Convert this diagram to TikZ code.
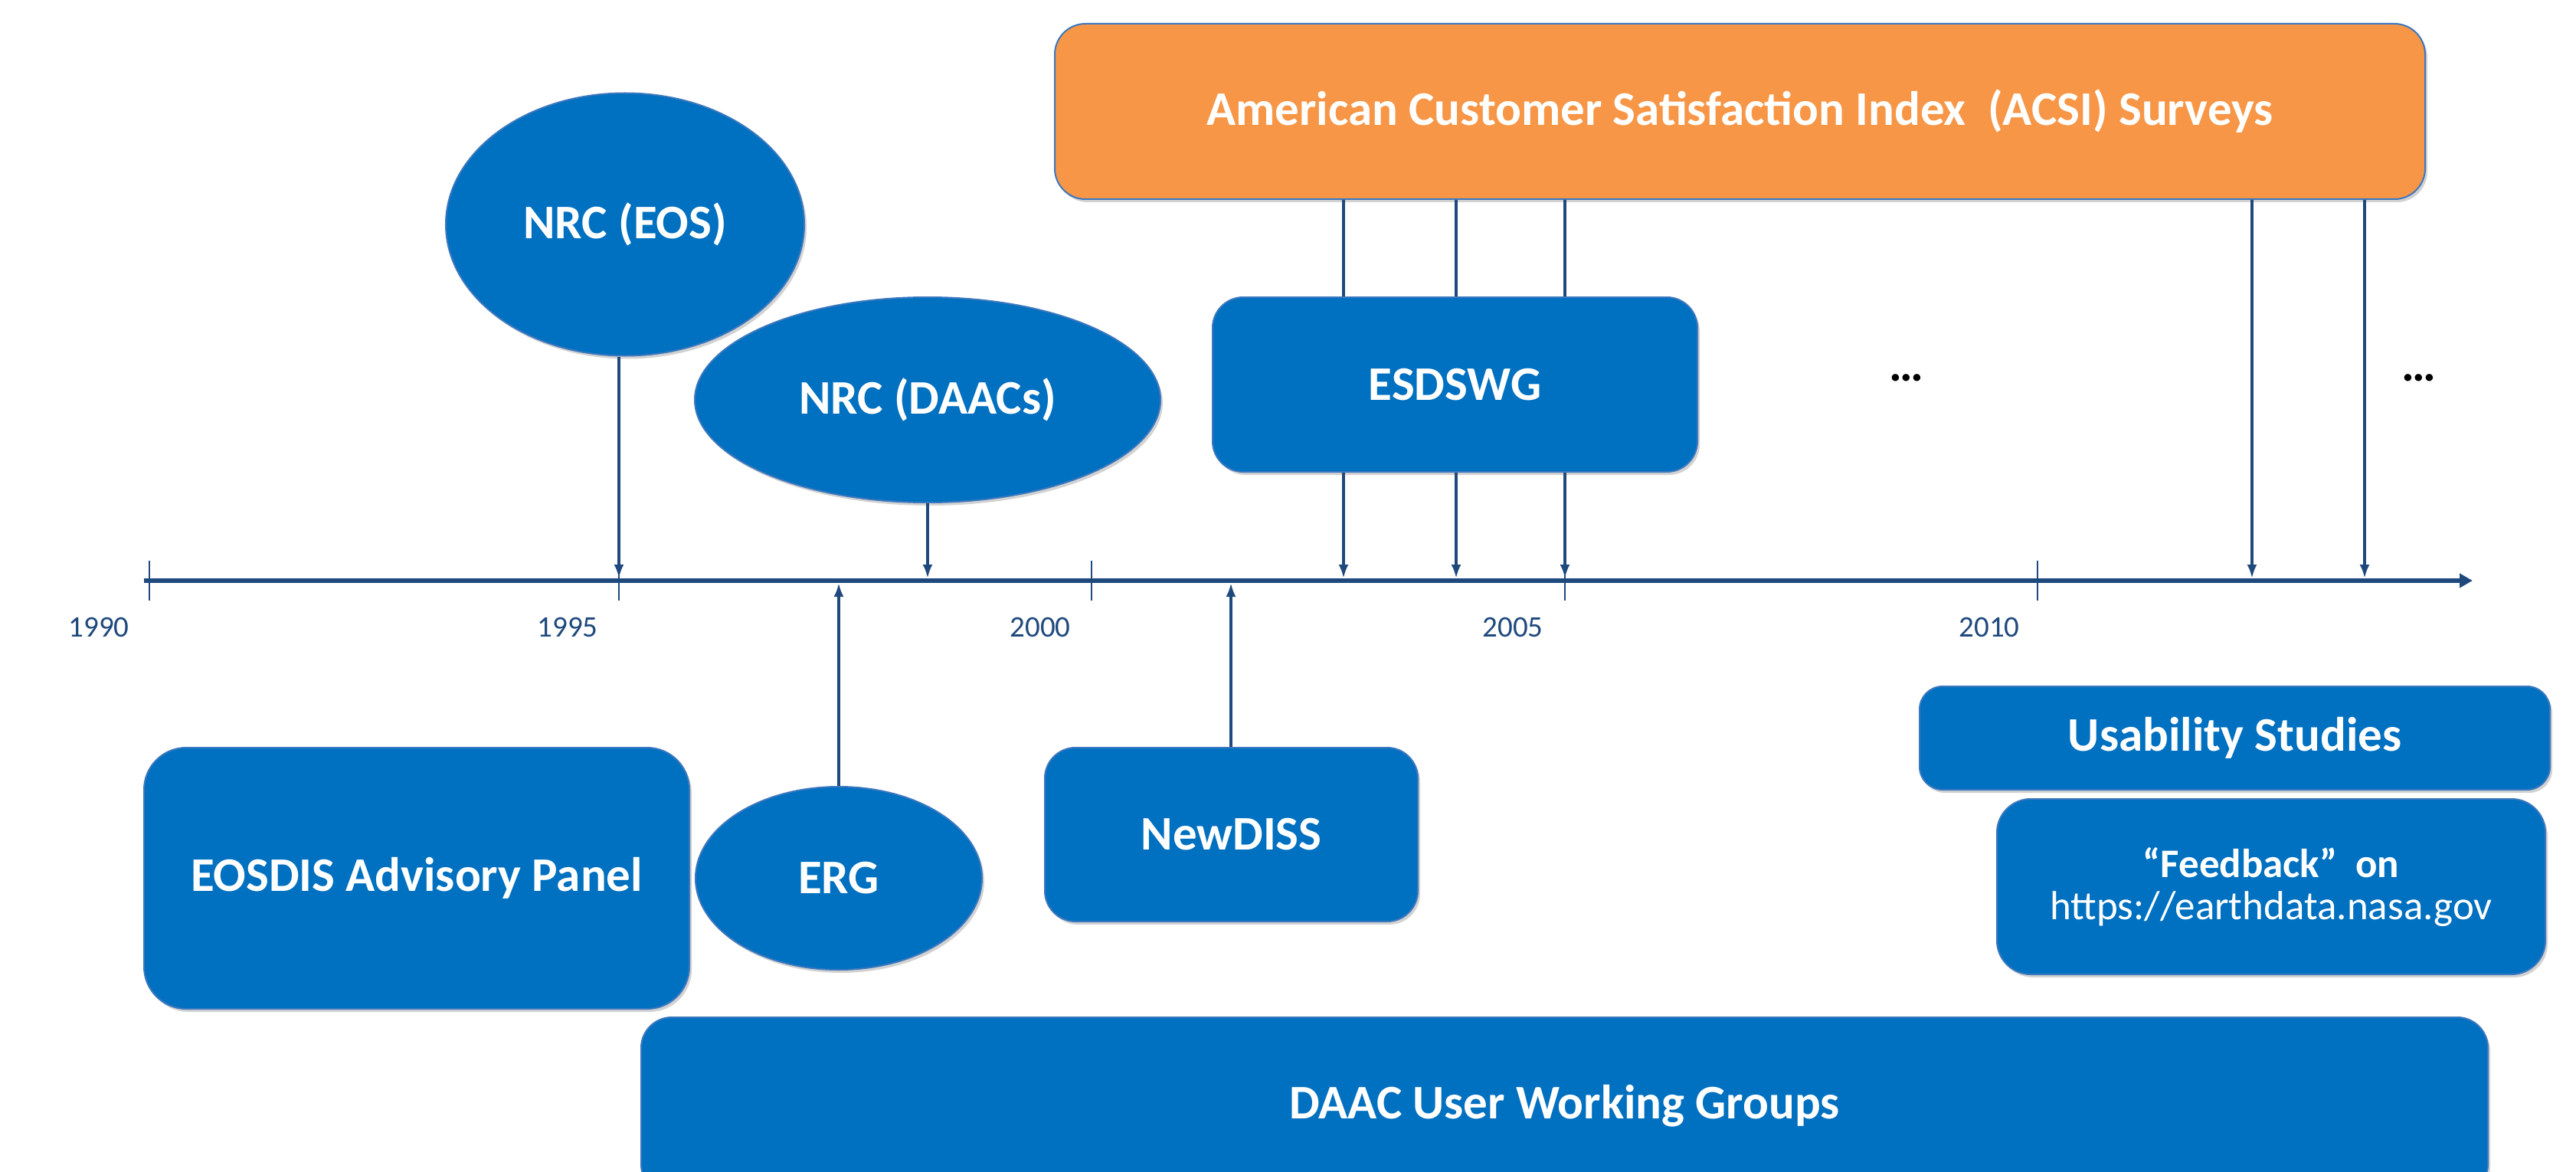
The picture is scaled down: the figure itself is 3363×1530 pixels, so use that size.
\documentclass[tikz,border=0pt]{standalone}
\usepackage{fontspec}
\setmainfont{Carlito}
\usetikzlibrary{shapes.geometric,arrows.meta,shadows}
\definecolor{boxblue}{HTML}{0070C0}
\definecolor{edgeblue}{HTML}{3C78BE}
\definecolor{acsiorange}{HTML}{F79646}
\definecolor{lineblue}{HTML}{1F497D}
\tikzset{
  shad/.style={drop shadow={shadow xshift=1.5pt,shadow yshift=-2pt,opacity=0.25,fill=black!70}},
  bigfont/.style={font=\fontsize{31.5}{36}\selectfont\bfseries},
  bluebox/.style={rectangle, rounded corners=20pt, fill=boxblue, draw=edgeblue, line width=1pt,
    text=white, bigfont, inner sep=0pt, align=center, shad},
  blueell/.style={ellipse, fill=boxblue, draw=edgeblue, line width=1pt,
    text=white, bigfont, inner sep=0pt, align=center, shad},
  orangebox/.style={bluebox, fill=acsiorange},
  tline/.style={line width=3pt, draw=lineblue},
  tickmark/.style={line width=1.1pt, draw=lineblue},
  link/.style={line width=1.9pt, draw=lineblue, -{Latex[length=9pt,width=6.5pt]}},
  year/.style={text=lineblue, font=\fontsize{19.5}{22}\selectfont, inner sep=0pt},
  dots/.style={bigfont, anchor=base, inner sep=0pt}
}
\begin{document}
\begin{tikzpicture}[x=0.5pt,y=-0.5pt]
\useasboundingbox (0,0) rectangle (3363,1530);

% timeline coordinates
\coordinate (tlstart) at (188,758);
\coordinate (tlend) at (3228,758);
\coordinate (y90) at (195,758);
\coordinate (y95) at (808,758);
\coordinate (y00) at (1425,758);
\coordinate (y05) at (2043,758);
\coordinate (y10) at (2660,758);
\coordinate (pEOS) at (808,755);
\coordinate (pDAACs) at (1211,755);
\coordinate (pERG) at (1095,761);
\coordinate (pNew) at (1607,761);
\coordinate (a1) at (1754,755);
\coordinate (a2) at (1901,755);
\coordinate (a3) at (2043,755);
\coordinate (a4) at (2940,755);
\coordinate (a5) at (3087,755);

% ACSI and its links (behind ESDSWG)
\node[orangebox, minimum width=894.5pt, minimum height=114.5pt] (acsi) at (2271.5,145.5)
  {American Customer Satisfaction Index~ (ACSI) Surveys};
\draw[link] (acsi.south -| a1) -- (a1);
\draw[link] (acsi.south -| a2) -- (a2);
\draw[link] (acsi.south -| a3) -- (a3);
\draw[link] (acsi.south -| a4) -- (a4);
\draw[link] (acsi.south -| a5) -- (a5);

\node[bluebox, minimum width=316.5pt, minimum height=114pt] (esdswg) at (1899.5,502) {ESDSWG};

% ellipses above
\node[blueell, minimum width=234pt, minimum height=171.5pt] (nrceos) at (816,293) {NRC (EOS)};
\node[blueell, minimum width=304pt, minimum height=134pt] (nrcdaacs) at (1211,522) {NRC (DAACs)};

\node[dots] (dots1) at (2489,497) {…};
\node[dots] (dots2) at (3158,497) {…};

% lower boxes
\node[bluebox, rounded corners=27.5pt, minimum width=356pt, minimum height=170.5pt] (eosdis) at (544,1146.5) {EOSDIS Advisory Panel};
\node[blueell, minimum width=187pt, minimum height=119.5pt] (erg) at (1095,1146.5) {ERG};
\node[bluebox, minimum width=243.5pt, minimum height=113.5pt] (newdiss) at (1607.5,1089.5) {NewDISS};
\node[bluebox, minimum width=1205.5pt, minimum height=116pt] (daac) at (2042.5,1444) {DAAC User Working Groups};
\node[bluebox, rounded corners=15pt, minimum width=411.5pt, minimum height=67.5pt] (usab) at (2917.5,963.5) {Usability Studies};
\node[bluebox, rounded corners=22pt, minimum width=358pt, minimum height=114.5pt,
  font=\fontsize{26.5}{27.5}\selectfont] (feedback) at (2965,1157.5)
  {\textbf{“Feedback”~ on}\\https://earthdata.nasa.gov};

% timeline
\draw[tline, -{Triangle[length=8.5pt,width=9pt]}] (tlstart) -- (tlend);
\foreach \t in {y90,y95,y00,y05,y10}
  \draw[tickmark] ([yshift=13pt]\t) -- ([yshift=-13pt]\t);

\node[year] (l1990) at (129,819) {1990};
\node[year] (l1995) at (741,819) {1995};
\node[year] (l2000) at (1358,819) {2000};
\node[year] (l2005) at (1975,819) {2005};
\node[year] (l2010) at (2597,819) {2010};

% links to timeline
\draw[link] (nrceos.south -| pEOS) -- (pEOS);
\draw[link] (nrcdaacs.south) -- (pDAACs);
\draw[link] (erg.north) -- (pERG);
\draw[link] (newdiss.north -| pNew) -- (pNew);
\end{tikzpicture}
\end{document}
